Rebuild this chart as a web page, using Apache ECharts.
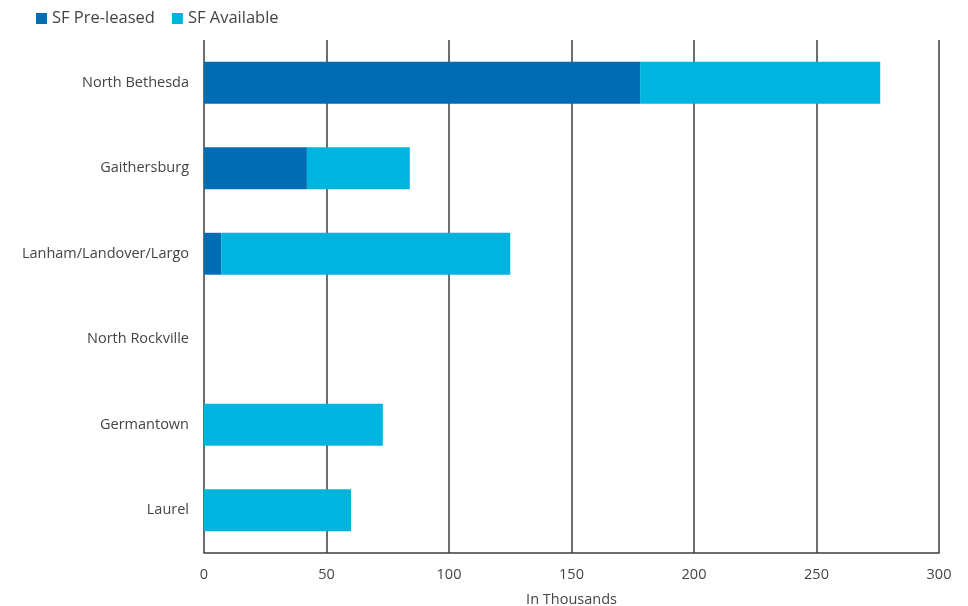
<!DOCTYPE html>
<html>
<head>
<meta charset="utf-8">
<script src="https://cdn.jsdelivr.net/npm/echarts@6/dist/echarts.min.js"></script>
<style>
  html, body { margin: 0; padding: 0; background: #fff; }
  #chart { width: 968px; height: 606px; }
</style>
</head>
<body>
<div id="chart"></div>
<script>
// Submarkets, top to bottom
const categories = ['North Bethesda', 'Gaithersburg', 'Lanham/Landover/Largo', 'North Rockville', 'Germantown', 'Laurel'];
// Square feet, in thousands
const preLeased = [178, 42, 7, 0, 0, 0];
const available = [98, 42, 118, 0, 73, 60];
const xTicks = { min: 0, max: 300, interval: 50 };

const textColor = '#444444';
const lineColor = '#3c3c3c';
const font = '"Open Sans", "Noto Sans", sans-serif';

const chart = echarts.init(document.getElementById('chart'), null, { renderer: 'canvas' });
chart.setOption({
  animation: false,
  textStyle: { fontFamily: font },
  legend: {
    left: 31,
    top: 5,
    itemWidth: 11,
    itemHeight: 11,
    itemGap: 17,
    icon: 'rect',
    textStyle: { color: textColor, fontSize: 16.5, fontFamily: font },
    data: ['SF Pre-leased', 'SF Available']
  },
  grid: { left: 204, right: 29, top: 40, bottom: 53, containLabel: false, outerBoundsMode: 'none' },
  xAxis: {
    type: 'value',
    min: xTicks.min,
    max: xTicks.max,
    interval: xTicks.interval,
    name: 'In Thousands',
    nameLocation: 'middle',
    nameGap: 39,
    nameTextStyle: { color: textColor, fontSize: 14.5, fontFamily: font },
    axisLine: { show: true, lineStyle: { color: lineColor, width: 1.5 } },
    axisTick: { show: false },
    axisLabel: { color: textColor, fontSize: 14.5, margin: 14, fontFamily: font },
    splitLine: { show: true, lineStyle: { color: lineColor, width: 1.5 } }
  },
  yAxis: {
    type: 'category',
    inverse: true,
    data: categories,
    axisLine: { show: false },
    axisTick: { show: false },
    axisLabel: { color: textColor, fontSize: 14.5, margin: 15, fontFamily: font }
  },
  series: [
    {
      name: 'SF Pre-leased',
      type: 'bar',
      stack: 'sf',
      barWidth: '49%',
      itemStyle: { color: '#006cb4' },
      data: preLeased
    },
    {
      name: 'SF Available',
      type: 'bar',
      stack: 'sf',
      barWidth: '49%',
      itemStyle: { color: '#00b4e0' },
      data: available
    }
  ]
});
</script>
</body>
</html>
